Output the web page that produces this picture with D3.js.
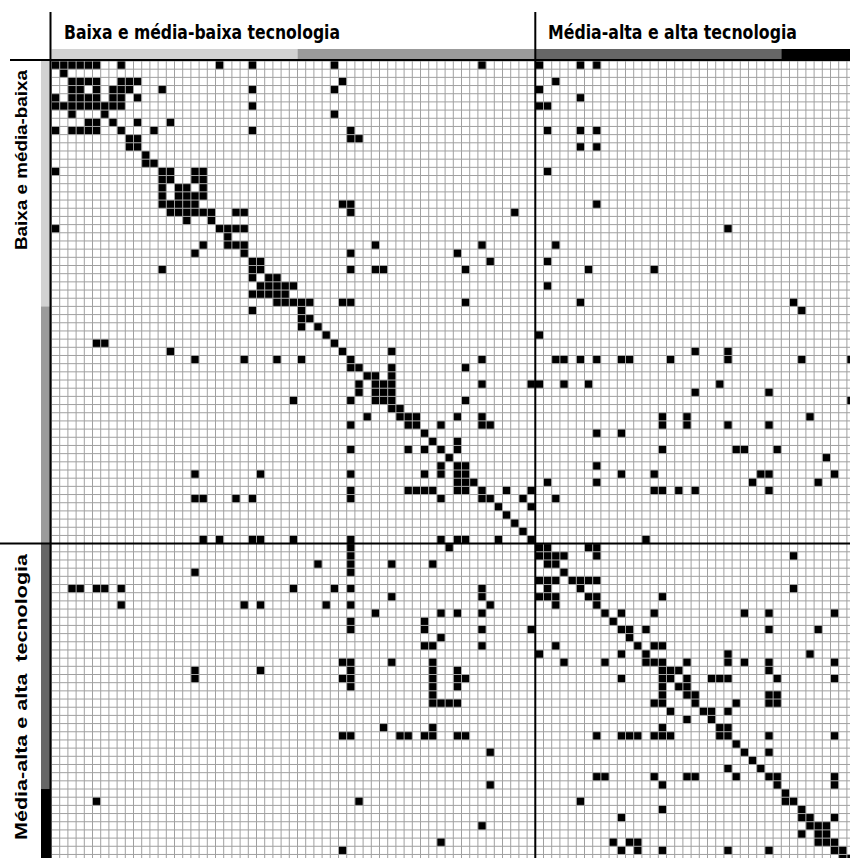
<!DOCTYPE html>
<html>
<head>
<meta charset="utf-8">
<script src="https://cdn.jsdelivr.net/npm/d3@7"></script>
<style>
  body { margin: 0; background: #fff; }
  svg { display: block; }
</style>
</head>
<body>
<div id="chart"></div>
<script>
// sector groups along both axes
const groupLabels = ["Baixa e média-baixa tecnologia", "Média-alta e alta tecnologia"];
const sideLabels = ["Baixa e média-baixa", "Média-alta e alta  tecnologia"];
const nSectors = 98;
const groupSplit = 59;
const bandBreaks = [0, 30, 59, 89, 98];
const bandColors = ["#d2d2d2", "#9b9b9b", "#666666", "#000000"];

// for each row sector, the column sectors that are linked (black cells)
const links = [
  [0,1,2,3,4,5,8,20,24,34,52,59,64,66],
  [1],
  [2,3,4,5,8,9,10,35,61],
  [2,3,5,7,8,9,13,24,34,59],
  [0,2,3,4,5,7,8,10,64],
  [0,1,2,3,4,5,6,7,8,24,59,60],
  [2,6,34],
  [4,5,7,10,14],
  [0,2,3,4,5,8,12,24,36,60,64,66],
  [9,10,36,37],
  [9,10,64,66],
  [11],
  [11,12],
  [0,13,14,17,18,60],
  [13,14,17,18],
  [13,15,16,18],
  [13,15,16,17,18],
  [13,14,15,16,17,35,36,66],
  [14,15,16,17,18,19,22,23,36,56],
  [16,19],
  [0,20,21,22,23,82],
  [21],
  [18,21,22,23,39,52,61],
  [17,23,36,49],
  [24,25,53,60],
  [13,24,25,36,39,40,50,65,73],
  [24,26,27],
  [25,26,27,28,29,60],
  [24,25,26,27,28],
  [27,28,29,30,31,35,36,50,64,90],
  [24,30,91],
  [30,31],
  [30,32],
  [33,59],
  [5,6,34],
  [14,35,41,78,82],
  [17,23,27,30,36,52,61,62,64,66,69,70,75,82,91,97],
  [36,37,41,50],
  [38,39,41],
  [37,39,40,41,52,58,59,62,65,81],
  [37,39,40,41,78,87],
  [29,36,39,40,41,50,97],
  [41,42],
  [38,42,43,44,49,52,74,77,92],
  [36,43,44,47,52,53,74,77,82,87],
  [45,66,69],
  [46,49],
  [36,43,45,47,49,74,83,84,88],
  [48,94],
  [47,49,50,66],
  [17,25,36,45,47,49,50,69,73,86,87,95],
  [49,50,51,60,66,85,93],
  [36,43,44,45,46,49,50,52,55,58,73,74,76,78,87],
  [17,18,22,24,36,47,52,53,57,61],
  [54,58],
  [55],
  [56],
  [57],
  [18,20,24,25,29,36,47,49,50,54,58,72],
  [36,48,59,60,65,66],
  [36,59,60,61,62,66,90],
  [32,36,41,46,60,61],
  [17,36,62],
  [59,60,61,63,64,65,66],
  [2,3,5,6,8,29,34,36,52,60,64,90],
  [41,52,59,60,61,65,66,74],
  [8,23,25,33,36,53,61,66],
  [39,47,49,52,67,69,73,84,87,95],
  [36,45,68],
  [36,45,52,58,69,70,72,87,93],
  [47,70],
  [45,46,52,61,71,73,74],
  [59,69,72,82,92],
  [35,36,41,46,62,67,72,73,74,77,82,84,87,95],
  [17,25,36,46,49,74,75,76,87],
  [17,35,36,46,49,50,69,74,75,77,80,81,82,88,95],
  [36,46,49,74,76,77],
  [46,74,77,78,87,88],
  [46,47,48,49,73,74,78,83,87,88],
  [75,79,80,82],
  [77,80],
  [40,46,74,81,82],
  [35,36,42,43,45,46,49,50,66,69,70,71,73,74,75,81,82,87,95],
  [83],
  [53,84,87],
  [85],
  [82,86],
  [66,67,73,77,78,83,87,88,95],
  [53,74,88,95],
  [89],
  [5,37,64,89,90],
  [74,91],
  [69,91,92,95],
  [52,92,93,94],
  [91,93,94],
  [47,68,70,71,93,94,95],
  [35,69,71,74,82,87,95,96],
  [96,97]
];

const width = 850, height = 858;
const gridLeft = 51.5, gridTop = 61, cellW = 8.2, cellH = 8.18;

const svg = d3.select("#chart").append("svg")
  .attr("width", width)
  .attr("height", height);

const x = d3.scaleLinear().domain([0, nSectors]).range([gridLeft, gridLeft + nSectors * cellW]);
const y = d3.scaleLinear().domain([0, nSectors]).range([gridTop, gridTop + nSectors * cellH]);

// cells
let cells = [];
links.forEach((cols, r) => {
  cols.forEach(c => cells.push({ r: r, c: c }));
});

const g = svg.append("g").attr("class", "matrix");
g.append("rect")
  .attr("x", x(0)).attr("y", y(0))
  .attr("width", x(nSectors) - x(0)).attr("height", y(nSectors) - y(0))
  .attr("fill", "#fff");

g.selectAll("rect.cell")
  .data(cells)
  .enter()
  .append("rect")
  .attr("class", "cell")
  .attr("x", d => x(d.c))
  .attr("y", d => y(d.r))
  .attr("width", cellW)
  .attr("height", cellH)
  .attr("fill", "#000");

// grid lines on top
const ticks = d3.range(0, nSectors + 1);
g.selectAll("line.v")
  .data(ticks)
  .enter().append("line")
  .attr("class", "v")
  .attr("x1", d => x(d)).attr("x2", d => x(d))
  .attr("y1", y(0)).attr("y2", y(nSectors))
  .attr("stroke", "#a0a0a0").attr("stroke-width", 1);
g.selectAll("line.h")
  .data(ticks)
  .enter().append("line")
  .attr("class", "h")
  .attr("y1", d => y(d)).attr("y2", d => y(d))
  .attr("x1", x(0)).attr("x2", x(nSectors))
  .attr("stroke", "#a0a0a0").attr("stroke-width", 1);

// colour bands on the top and the left
const bands = d3.range(bandColors.length).map(i => ({ from: bandBreaks[i], to: bandBreaks[i + 1], color: bandColors[i] }));
svg.selectAll("rect.topband")
  .data(bands)
  .enter().append("rect")
  .attr("class", "topband")
  .attr("x", d => x(d.from)).attr("width", d => x(d.to) - x(d.from))
  .attr("y", 49).attr("height", 10)
  .attr("fill", d => d.color);
svg.selectAll("rect.leftband")
  .data(bands)
  .enter().append("rect")
  .attr("class", "leftband")
  .attr("y", d => y(d.from)).attr("height", d => y(d.to) - y(d.from))
  .attr("x", 41).attr("width", 9)
  .attr("fill", d => d.color);

// axis and divider lines
svg.append("line").attr("x1", 50.5).attr("x2", 50.5).attr("y1", 12).attr("y2", height)
  .attr("stroke", "#000").attr("stroke-width", 2);
svg.append("line").attr("x1", 10).attr("x2", width).attr("y1", 60).attr("y2", 60)
  .attr("stroke", "#000").attr("stroke-width", 2);
svg.append("line").attr("x1", x(groupSplit)).attr("x2", x(groupSplit)).attr("y1", 12).attr("y2", height)
  .attr("stroke", "#000").attr("stroke-width", 2);
svg.append("line").attr("x1", 0).attr("x2", width).attr("y1", y(groupSplit)).attr("y2", y(groupSplit))
  .attr("stroke", "#000").attr("stroke-width", 2);

// group titles
const titleFont = "'Liberation Sans Narrow', 'DejaVu Sans Condensed', 'Roboto', sans-serif";
svg.append("text")
  .attr("x", 64).attr("y", 39)
  .attr("font-family", titleFont).attr("font-weight", "bold").attr("font-size", 20)
  .attr("textLength", 276).attr("lengthAdjust", "spacingAndGlyphs")
  .text(groupLabels[0]);
svg.append("text")
  .attr("x", 548).attr("y", 39)
  .attr("font-family", titleFont).attr("font-weight", "bold").attr("font-size", 20)
  .attr("textLength", 249).attr("lengthAdjust", "spacingAndGlyphs")
  .text(groupLabels[1]);

const sideFont = "'Liberation Sans', Arial, sans-serif";
svg.append("text")
  .attr("transform", "translate(27,70) rotate(-90)")
  .attr("text-anchor", "end")
  .attr("font-family", sideFont).attr("font-weight", "bold").attr("font-size", 17)
  .attr("textLength", 180).attr("lengthAdjust", "spacingAndGlyphs")
  .text(sideLabels[0]);
svg.append("text")
  .attr("transform", "translate(27,840) rotate(-90)")
  .attr("font-family", sideFont).attr("font-weight", "bold").attr("font-size", 17)
  .attr("textLength", 286).attr("lengthAdjust", "spacingAndGlyphs")
  .style("white-space", "pre")
  .text(sideLabels[1]);
</script>
</body>
</html>
